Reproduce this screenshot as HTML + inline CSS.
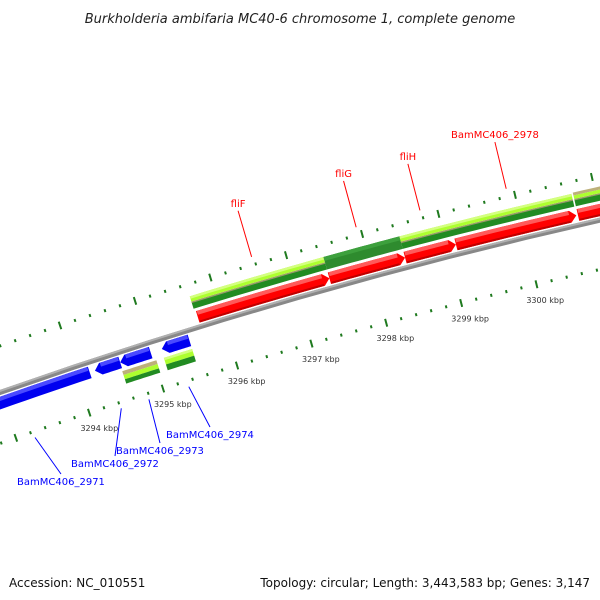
<!DOCTYPE html>
<html><head><meta charset="utf-8"><style>
body{margin:0;background:#fff}
svg{display:block;font-family:"DejaVu Sans","Liberation Sans",sans-serif}
</style></head><body>
<svg id="map" width="600" height="600" viewBox="0 0 600 600">
<text x="300" y="23" text-anchor="middle" font-size="13" font-style="italic" fill="#222">Burkholderia ambifaria MC40-6 chromosome 1, complete genome</text>
<g id="plot"></g>
<text x="9" y="587" font-size="12" fill="#111">Accession: NC_010551</text>
<text x="590" y="587" font-size="12" fill="#111" text-anchor="end">Topology: circular; Length: 3,443,583 bp; Genes: 3,147</text>
</svg>
<script>
// forward (red) genes, kbp
const fwdNames = ["fliF","fliG","fliH","BamMC406_2978",""];
const fwdStart = [3295.70,3297.45,3298.45,3299.12,3300.72];
const fwdEnd   = [3297.45,3298.45,3299.12,3300.70,3302.4];
// reverse (blue) genes, kbp
const revNames = ["BamMC406_2971","BamMC406_2972","BamMC406_2973","BamMC406_2974"];
const revStart = [3292.3,3294.24,3294.58,3295.14];
const revEnd   = [3294.17,3294.58,3294.99,3295.51];
const revLabelX = [61,115,160,210];
const revLabelY = [474,456,443,427];
// forward green tracks
const fgStart = [3295.68,3297.45,3298.45,3300.72];
const fgEnd   = [3297.45,3298.45,3300.70,3302.4];
const fgType  = ["two","dark","two","three"];
// reverse green tracks
const rgStart = [3294.57,3295.13];
const rgEnd   = [3295.03,3295.51];
const rgType  = ["three","two"];
// ticks
const tickStart = 3292, tickEnd = 3302.4, majorLabels = [3294,3295,3296,3297,3298,3299,3300];

const NS="http://www.w3.org/2000/svg";
const plot=document.getElementById('plot');
const cx=1780, cy=5460, R=5371, phi0=-106.85*Math.PI/180, dphi=0.835*Math.PI/180;
function P(k,v){const a=phi0+(k-3296)*dphi, r=R+v;return [cx+r*Math.cos(a),cy+r*Math.sin(a)];}
function poly(pts,fill,name){const p=document.createElementNS(NS,'polygon');
 p.setAttribute('points',pts.map(q=>q[0].toFixed(2)+','+q[1].toFixed(2)).join(' '));
 p.setAttribute('fill',fill);
 
 
 plot.appendChild(p);return p;}
function band(k1,k2,v1,v2,fill,name,dir){ // dir: 1 arrow right, -1 arrow left
 const head=0.08, n=12, pts=[]; let a=k1,b=k2;
 if(dir===1) b=Math.max(k1,k2-head); if(dir===-1) a=Math.min(k2,k1+head);
 const vm=(v1+v2)/2;
 for(let i=0;i<=n;i++) pts.push(P(a+(b-a)*i/n,v2));
 if(dir===1) pts.push(P(k2,vm));
 for(let i=n;i>=0;i--) pts.push(P(a+(b-a)*i/n,v1));
 if(dir===-1) pts.push(P(k1,vm));
 return poly(pts,fill,name);}
function line(x1,y1,x2,y2,c,w,name){const l=document.createElementNS(NS,'line');
 l.setAttribute('x1',x1);l.setAttribute('y1',y1);l.setAttribute('x2',x2);l.setAttribute('y2',y2);
 l.setAttribute('stroke',c);l.setAttribute('stroke-width',w);
 
 
 plot.appendChild(l);}
function text(x,y,s,size,c,name){const t=document.createElementNS(NS,'text');
 t.setAttribute('x',x);t.setAttribute('y',y);t.setAttribute('font-size',size);t.setAttribute('fill',c);t.setAttribute('text-anchor','middle');
 t.textContent=s;
 
 
 plot.appendChild(t);}

// backbone
band(3291,3303,-2.5,2.5,'#888','backbone',0);
band(3291,3303,0.5,2.5,'#b0b0b0','backbone-highlight',0);

// ticks
for(let i=0;tickStart+i*0.2<=tickEnd;i++){
 const k=tickStart+i*0.2; const major=Math.abs(k-Math.round(k))<1e-6;
 const L=major?4:1.5;
 [44,-48].forEach(v=>{const a=P(k,v-L),b=P(k,v+L);
  line(a[0],a[1],b[0],b[1],'#1f7a1f',major?2:2,major?'major-tick':'minor-tick');});
}
majorLabels.forEach(k=>{const p=P(k,-64);text(p[0]+5,p[1]+3,k+' kbp',8,'#333','tick-label');});

// forward green tracks
fgStart.forEach((s,i)=>{const e=fgEnd[i],t=fgType[i];
 if(t==='dark'){band(s,e,19,32,'#2e8b2e','track-dark',0);band(s,e,28,32,'#3da03d','track-dark-highlight',0);}
 else{band(s,e,19,25.5,'#228b22','track-dark',0);band(s,e,25,26.5,'#9a9a6a','track-sep',0);
  if(t==='three'){band(s,e,26.5,30,'#adff2f','track-light',0);band(s,e,30,33,'#bdb07a','track-khaki',0);}
  else{band(s,e,26.5,32,'#adff2f','track-light',0);band(s,e,29.5,32,'#d4ff80','track-light-highlight',0);}}
});
// red genes
fwdStart.forEach((s,i)=>{const e=fwdEnd[i];
 band(s,e,4,16,'#f00','gene-'+(fwdNames[i]||'fwd'),1);
 band(s+0.01,e-0.09,12,16,'#ff5a5a','gene-highlight',0);
 band(s+0.01,e-0.09,4,6,'#c00000','gene-shadow',0);
 if(fwdNames[i]){const m=(s+e)/2,a=P(m,52),b=P(m,100);
  line(a[0],a[1],b[0],b[1],'#f00',1,'leader-line');
  text(b[0],b[1]-4,fwdNames[i],10,'#f00','gene-label-'+fwdNames[i]);}
});
// blue genes
revStart.forEach((s,i)=>{const e=revEnd[i];
 band(s,e,-16,-4,'#0000f0','gene-'+revNames[i],-1);
 band(s+0.09,e-0.01,-8,-4,'#4a4aff','gene-highlight',0);
 const m=(s+e)/2,a=P(m,-54);
 line(a[0],a[1],revLabelX[i],revLabelY[i],'#00f',1,'leader-line');
 text(revLabelX[i],revLabelY[i]+11,revNames[i],10,'#00f','gene-label-'+revNames[i]);
});
// reverse green tracks
rgStart.forEach((s,i)=>{const e=rgEnd[i];
 if(rgType[i]==='three'){band(s,e,-23,-19,'#bdb07a','track-khaki',0);band(s,e,-27.5,-23,'#adff2f','track-light',0);band(s,e,-32,-27.5,'#228b22','track-dark',0);}
 else{band(s,e,-26,-19,'#adff2f','track-light',0);band(s,e,-21.5,-19,'#d4ff80','track-light-highlight',0);band(s,e,-32,-26,'#228b22','track-dark',0);}
});
</script>
</body></html>
